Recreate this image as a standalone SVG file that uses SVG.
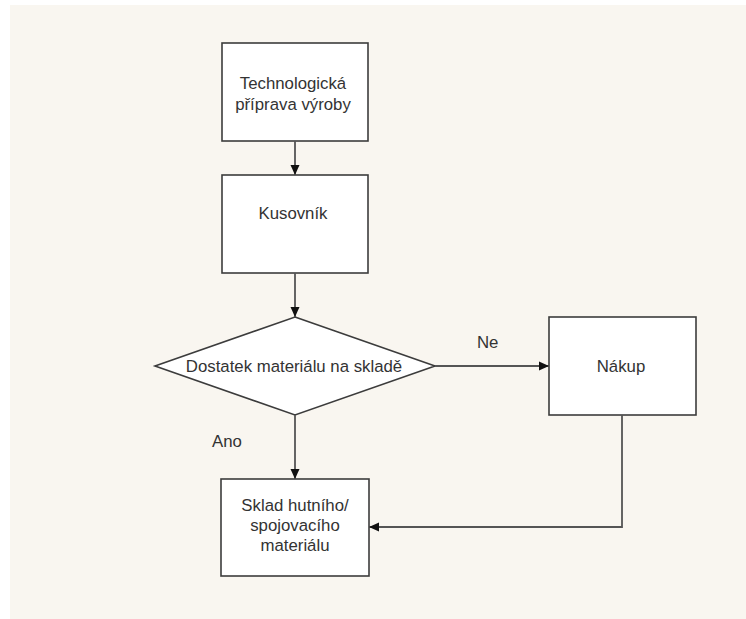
<svg xmlns="http://www.w3.org/2000/svg" width="746" height="619" viewBox="0 0 746 619">
  <defs>
    <marker id="arrow" markerWidth="10" markerHeight="10" refX="10" refY="5" orient="auto" markerUnits="userSpaceOnUse">
      <path d="M0,0.5 L10,5 L0,9.5 Z" fill="#111"/>
    </marker>
    <style>
      .node { fill: #ffffff; stroke: #3c3c3c; stroke-width: 1.6; }
      .label { font-family: "Liberation Sans", Arial, sans-serif; font-size: 16.8px; fill: #333333; }
      .mid { text-anchor: middle; }
      .edge { fill: none; stroke: #555555; stroke-width: 1.8; }
    </style>
  </defs>

  <!-- canvas -->
  <rect x="10" y="5" width="736" height="614" fill="#f9f6f0"/>

  <g id="technologicka-priprava">
    <rect class="node" x="222" y="43" width="146" height="98"/>
    <text class="label mid" x="293" y="89">Technologická</text>
    <text class="label mid" x="293" y="110">příprava výroby</text>
  </g>

  <g id="kusovnik">
    <rect class="node" x="222" y="175" width="146" height="98"/>
    <text class="label mid" x="293" y="219">Kusovník</text>
  </g>

  <g id="dostatek-materialu">
    <polygon class="node" points="295,317 435,366 295,415 155,366"/>
    <text class="label mid" x="294" y="372">Dostatek materiálu na skladě</text>
  </g>

  <g id="nakup">
    <rect class="node" x="549" y="317" width="147" height="98"/>
    <text class="label mid" x="621" y="372">Nákup</text>
  </g>

  <g id="sklad">
    <rect class="node" x="221" y="479" width="148" height="97"/>
    <text class="label mid" x="295" y="511">Sklad hutního/</text>
    <text class="label mid" x="295" y="531">spojovacího</text>
    <text class="label mid" x="295" y="551">materiálu</text>
  </g>

  <g id="connectors">
    <line class="edge" x1="295" y1="141" x2="295" y2="175" marker-end="url(#arrow)"/>
    <line class="edge" x1="295" y1="273" x2="295" y2="317" marker-end="url(#arrow)"/>
    <line class="edge" x1="435" y1="366" x2="549" y2="366" marker-end="url(#arrow)"/>
    <line class="edge" x1="295" y1="415" x2="295" y2="479" marker-end="url(#arrow)"/>
    <polyline class="edge" points="622,415 622,527 369,527" marker-end="url(#arrow)"/>
    <text class="label" x="477" y="348">Ne</text>
    <text class="label" x="212" y="447">Ano</text>
  </g>
</svg>
